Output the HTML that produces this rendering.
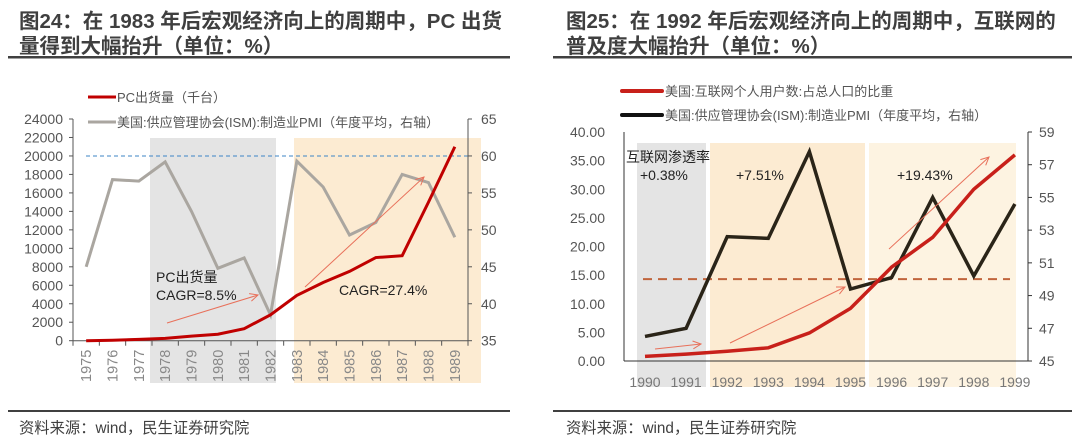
<!DOCTYPE html>
<html><head><meta charset="utf-8">
<style>
body{margin:0;background:#fff;width:1080px;height:439px;overflow:hidden;font-family:"Liberation Sans","Noto Sans CJK SC",sans-serif;}
svg{position:absolute;left:0;top:0}
</style></head>
<body>
<svg id="s" width="1080" height="439" font-family="'Liberation Sans','Noto Sans CJK SC',sans-serif">
<g fill="#3f3f3f" font-weight="bold" font-size="20.5">
<text x="19" y="28">图24：在 1983 年后宏观经济向上的周期中，PC 出货</text>
<text x="19" y="53">量得到大幅抬升（单位：%）</text></g>
<rect x="8" y="56" width="502" height="2.5" fill="#404040"/>
<g fill="#3f3f3f" font-weight="bold" font-size="20.5">
<text x="566" y="28">图25：在 1992 年后宏观经济向上的周期中，互联网的</text>
<text x="566" y="53">普及度大幅抬升（单位：%）</text></g>
<rect x="553" y="56" width="519" height="2.5" fill="#404040"/>
<rect x="8" y="410" width="502" height="2" fill="#404040"/>
<rect x="553" y="410" width="519" height="2" fill="#404040"/>
<text x="19" y="433" font-size="15.3" fill="#404040">资料来源：wind，民生证券研究院</text>
<text x="566" y="433" font-size="15.3" fill="#404040">资料来源：wind，民生证券研究院</text>
<g id="L"></g><g id="R"></g>
</svg>
<script>
const yearsL=["1975","1976","1977","1978","1979","1980","1981","1982","1983","1984","1985","1986","1987","1988","1989"];
const pcShip=[0,50,150,250,500,700,1300,2800,4900,6300,7500,9000,9200,15000,21000];
const pmiL=[45,56.8,56.6,59.2,52.5,44.8,46.2,38.5,59.3,55.8,49.3,51,57.5,56.4,49];
const leftTicksL=[0,2000,4000,6000,8000,10000,12000,14000,16000,18000,20000,22000,24000];
const rightTicksL=[35,40,45,50,55,60,65];
const yearsR=["1990","1991","1992","1993","1994","1995","1996","1997","1998","1999"];
const netPen=[0.8,1.2,1.7,2.3,4.9,9.2,16.4,21.6,30,36];
const pmiR=[46.5,47,52.6,52.5,57.8,49.4,50.1,55,50.2,54.6];
const leftTicksR=[0,5,10,15,20,25,30,35,40];
const rightTicksR=[45,47,49,51,53,55,57,59];
const NS="http://www.w3.org/2000/svg";
function mk(p,t,a,name,txt){const e=document.createElementNS(NS,t);for(const k in a)e.setAttribute(k,a[k]);


if(txt!==undefined)e.textContent=txt;p.appendChild(e);return e;}
function arrow(g,x1,y1,x2,y2,name){mk(g,'line',{x1,y1,x2,y2,stroke:'#e8705a','stroke-width':1},name);
const a=Math.atan2(y2-y1,x2-x1),l=9;
mk(g,'polyline',{points:`${x2-l*Math.cos(a-0.45)},${y2-l*Math.sin(a-0.45)} ${x2},${y2} ${x2-l*Math.cos(a+0.45)},${y2-l*Math.sin(a+0.45)}`,fill:'none',stroke:'#e8705a','stroke-width':1},name+'-head');}
// LEFT
(function(){const g=document.getElementById('L');
const x0=73,x1=468,yb=340.7,yt=119,n=yearsL.length,bw=(x1-x0)/n;
const X=i=>x0+bw*(i+0.5),Y=v=>yb-(v/24000)*(yb-yt),Y2=v=>yb-(v-35)/30*(yb-yt);
mk(g,'rect',{x:150,y:138,width:126,height:245,fill:'#e4e4e4'},'shade-1978-1982');
mk(g,'rect',{x:294,y:138,width:187,height:245,fill:'#fcebd2'},'shade-1983-1989');
mk(g,'line',{x1:86,x2:470,y1:Y2(60),y2:Y2(60),stroke:'#3d85c6','stroke-dasharray':'4 3'},'pmi-60-reference');
mk(g,'line',{x1:x0,x2:x0,y1:yt,y2:yb,stroke:'#555'},'left-y-axis');
mk(g,'line',{x1:x1,x2:x1,y1:yt,y2:yb,stroke:'#555'},'right-y-axis');
mk(g,'line',{x1:x0,x2:x1,y1:yb,y2:yb,stroke:'#555'},'x-axis');
leftTicksL.forEach(v=>{mk(g,'text',{x:63,y:Y(v)+5,'font-size':14,fill:'#555','text-anchor':'end'},'left-tick-label',String(v));mk(g,'line',{x1:x0-4,x2:x0,y1:Y(v),y2:Y(v),stroke:'#555'},'left-tick');});
rightTicksL.forEach(v=>{mk(g,'text',{x:481,y:Y2(v)+5,'font-size':14,fill:'#555'},'right-tick-label',String(v));mk(g,'line',{x1:x1,x2:x1+4,y1:Y2(v),y2:Y2(v),stroke:'#555'},'right-tick');});
for(let i=0;i<=n;i++)mk(g,'line',{x1:x0+bw*i,x2:x0+bw*i,y1:yb,y2:yb+5,stroke:'#555'},'x-tick');
yearsL.forEach((y,i)=>mk(g,'text',{x:0,y:0,transform:`translate(${X(i)+5},${382}) rotate(-90)`,'font-size':14.5,fill:'#888'},'x-tick-label',y));
mk(g,'polyline',{points:pmiL.map((v,i)=>X(i)+','+Y2(v)).join(' '),fill:'none',stroke:'#aaa6a0','stroke-width':3},'pmi-line');
mk(g,'polyline',{points:pcShip.map((v,i)=>X(i)+','+Y(v)).join(' '),fill:'none',stroke:'#c00000','stroke-width':3},'pc-shipment-line');
arrow(g,167,323,258,295,'cagr-arrow-1');arrow(g,305,287,424,177,'cagr-arrow-2');
mk(g,'text',{x:156,y:282,'font-size':14,fill:'#222'},'annotation-pc','PC出货量');
mk(g,'text',{x:156,y:300,'font-size':14,fill:'#222'},'annotation-cagr-8','CAGR=8.5%');
mk(g,'text',{x:339,y:295,'font-size':14,fill:'#222'},'annotation-cagr-27','CAGR=27.4%');
mk(g,'line',{x1:88,x2:116,y1:97,y2:97,stroke:'#c00000','stroke-width':3},'legend-pc-swatch');
mk(g,'text',{x:117,y:102,'font-size':13,fill:'#555'},'legend-pc-label','PC出货量（千台）');
mk(g,'line',{x1:88,x2:116,y1:122,y2:122,stroke:'#aaa6a0','stroke-width':3},'legend-pmi-swatch');
mk(g,'text',{x:117,y:127,'font-size':13,fill:'#555'},'legend-pmi-label','美国:供应管理协会(ISM):制造业PMI（年度平均，右轴）');
})();
// RIGHT
(function(){const g=document.getElementById('R');
const x0=624,x1=1028,yb=361,yt=132,n=yearsR.length,bw=(x1-x0)/n;
const X=i=>645+i*41.1,Y=v=>yb-v/40*(yb-yt),Y2=v=>yb-(v-45)/14*(yb-yt);
mk(g,'rect',{x:637,y:143,width:69,height:244,fill:'#e4e4e4'},'shade-1990-1991');
mk(g,'rect',{x:710,y:143,width:155,height:244,fill:'#fcebd2'},'shade-1992-1995');
mk(g,'rect',{x:869,y:143,width:147,height:244,fill:'#fdf3e1'},'shade-1996-1999');
mk(g,'line',{x1:643,x2:1010,y1:Y(14.3),y2:Y(14.3),stroke:'#c0643c','stroke-width':2,'stroke-dasharray':'9 6'},'reference-dashed-line');
mk(g,'line',{x1:x0,x2:x0,y1:yt,y2:yb,stroke:'#333'},'left-y-axis');
mk(g,'line',{x1:x1,x2:x1,y1:yt,y2:yb,stroke:'#333'},'right-y-axis');
mk(g,'line',{x1:x0,x2:x1,y1:yb,y2:yb,stroke:'#333'},'x-axis');
leftTicksR.forEach(v=>mk(g,'text',{x:605,y:Y(v)+5,'font-size':14,fill:'#555','text-anchor':'end'},'left-tick-label',v.toFixed(2)));
rightTicksR.forEach(v=>{mk(g,'text',{x:1039,y:Y2(v)+5,'font-size':14,fill:'#555'},'right-tick-label',String(v));mk(g,'line',{x1:x1,x2:x1+4,y1:Y2(v),y2:Y2(v),stroke:'#333'},'right-tick');});
yearsR.forEach((y,i)=>mk(g,'text',{x:X(i),y:387,'font-size':14,fill:'#777','text-anchor':'middle'},'x-tick-label',y));
mk(g,'polyline',{points:pmiR.map((v,i)=>X(i)+','+Y2(v)).join(' '),fill:'none',stroke:'#2a2418','stroke-width':3.5},'pmi-line');
mk(g,'polyline',{points:netPen.map((v,i)=>X(i)+','+Y(v)).join(' '),fill:'none',stroke:'#c8201a','stroke-width':3.5},'internet-penetration-line');
arrow(g,655,349,701,344,'growth-arrow-1');arrow(g,730,343,845,287,'growth-arrow-2');arrow(g,889,249,989,157,'growth-arrow-3');
mk(g,'text',{x:626,y:162,'font-size':14,fill:'#222'},'annotation-title','互联网渗透率');
mk(g,'text',{x:640,y:180,'font-size':14,fill:'#222'},'annotation-0-38','+0.38%');
mk(g,'text',{x:736,y:180,'font-size':14,fill:'#222'},'annotation-7-51','+7.51%');
mk(g,'text',{x:897,y:180,'font-size':14,fill:'#222'},'annotation-19-43','+19.43%');
mk(g,'line',{x1:622,x2:662,y1:91,y2:91,stroke:'#c8201a','stroke-width':4,'stroke-linecap':'round'},'legend-internet-swatch');
mk(g,'text',{x:665,y:96,'font-size':13,fill:'#555'},'legend-internet-label','美国:互联网个人用户数:占总人口的比重');
mk(g,'line',{x1:622,x2:662,y1:115,y2:115,stroke:'#111','stroke-width':4,'stroke-linecap':'round'},'legend-pmi-swatch');
mk(g,'text',{x:665,y:120,'font-size':13,fill:'#555'},'legend-pmi-label','美国:供应管理协会(ISM):制造业PMI（年度平均，右轴）');
})();
</script>
</body></html>
